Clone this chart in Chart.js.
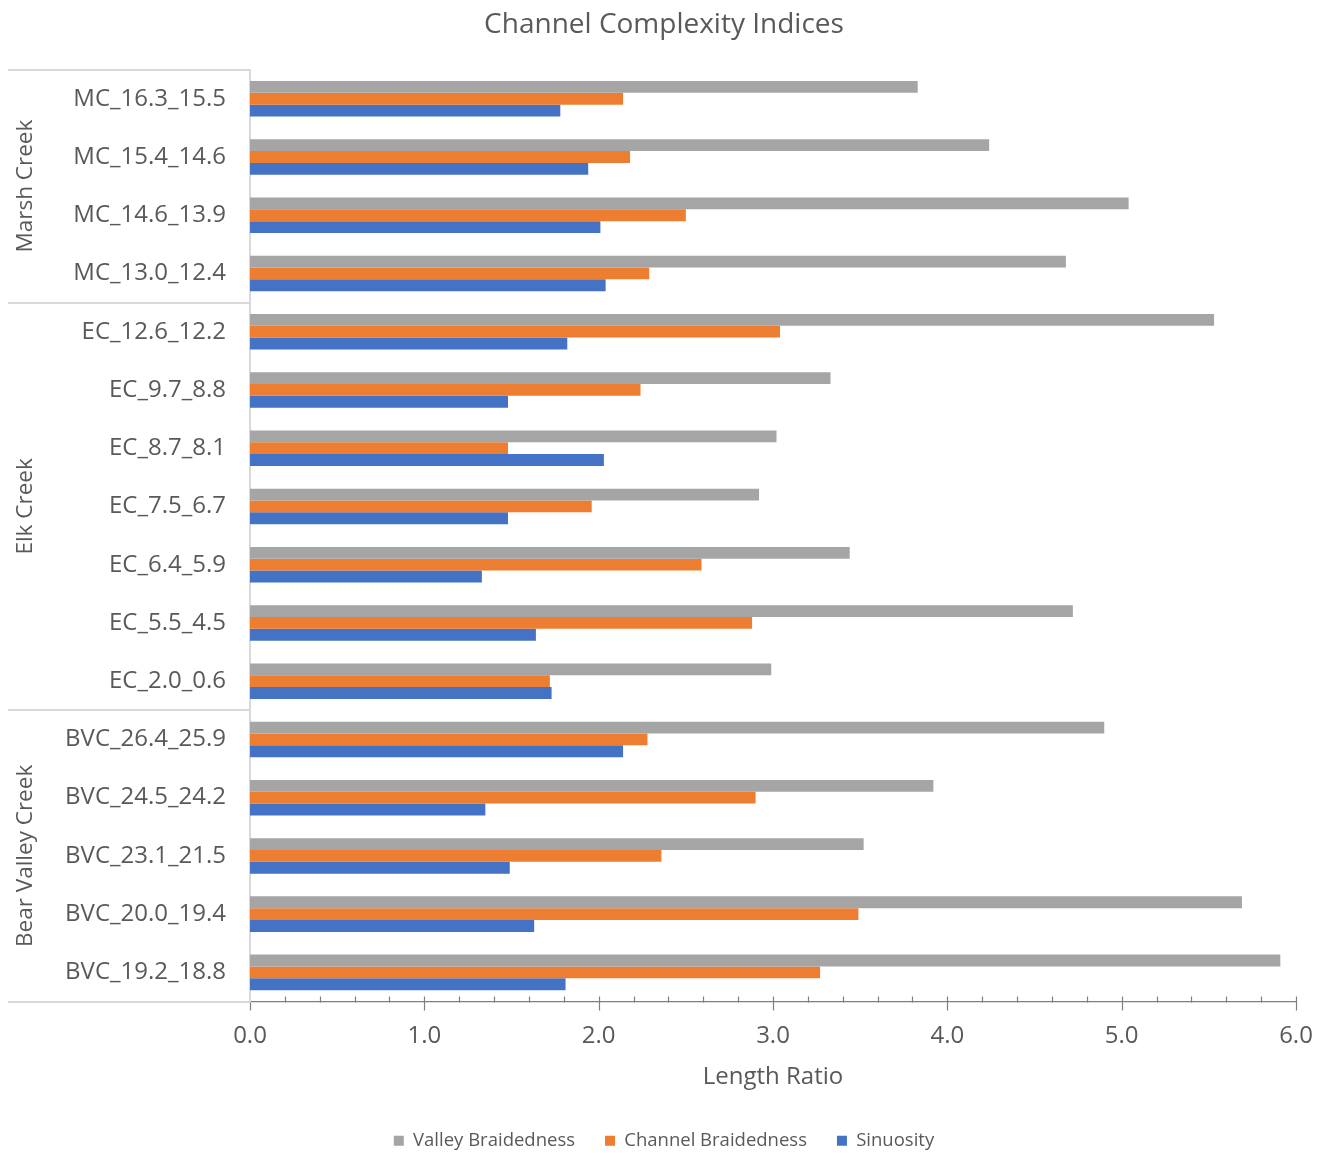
<!DOCTYPE html>
<html>
<head>
<meta charset="utf-8">
<title>Channel Complexity Indices</title>
<script src="https://cdn.jsdelivr.net/npm/chart.js@4.4.1/dist/chart.umd.min.js"></script>
<style>
  html, body { margin: 0; padding: 0; background: #ffffff; }
  #wrap { width: 1327px; height: 1153px; }
</style>
</head>
<body>
<div id="wrap"><canvas id="c" width="1327" height="1153"></canvas></div>
<script>
// Reach names, top to bottom
const reaches = [
  'MC_16.3_15.5', 'MC_15.4_14.6', 'MC_14.6_13.9', 'MC_13.0_12.4',
  'EC_12.6_12.2', 'EC_9.7_8.8', 'EC_8.7_8.1', 'EC_7.5_6.7', 'EC_6.4_5.9', 'EC_5.5_4.5', 'EC_2.0_0.6',
  'BVC_26.4_25.9', 'BVC_24.5_24.2', 'BVC_23.1_21.5', 'BVC_20.0_19.4', 'BVC_19.2_18.8'
];

// Creek groups and how many reaches each holds
const groupNames = ['Marsh Creek', 'Elk Creek', 'Bear Valley Creek'];
const groupSizes = [4, 7, 5];

// Length ratios per reach
const valleyBraidedness = [3.83, 4.24, 5.04, 4.68, 5.53, 3.33, 3.02, 2.92, 3.44, 4.72, 2.99, 4.90, 3.92, 3.52, 5.69, 5.91];
const channelBraidedness = [2.14, 2.18, 2.50, 2.29, 3.04, 2.24, 1.48, 1.96, 2.59, 2.88, 1.72, 2.28, 2.90, 2.36, 3.49, 3.27];
const sinuosity = [1.78, 1.94, 2.01, 2.04, 1.82, 1.48, 2.03, 1.48, 1.33, 1.64, 1.73, 2.14, 1.35, 1.49, 1.63, 1.81];

// Value axis
const xMin = 0, xMax = 6, xMajorStep = 1, xMinorStep = 0.2;

const TEXT = '#595959';
const FONT = "'Open Sans', 'DejaVu Sans', sans-serif";

// Group labels and separator lines on the left of the category axis
const groupAxis = {
  id: 'groupAxis',
  afterDraw(chart) {
    const { ctx, chartArea, scales } = chart;
    const y = scales.y;
    const half = (y.getPixelForValue(1) - y.getPixelForValue(0)) / 2;
    ctx.save();
    ctx.strokeStyle = '#d9d9d9';
    ctx.lineWidth = 2;
    let start = 0;
    const bounds = [];
    groupSizes.forEach((n, i) => {
      const top = y.getPixelForValue(start) - half;
      const bottom = y.getPixelForValue(start + n - 1) + half;
      if (i === 0) bounds.push(top);
      bounds.push(bottom);
      ctx.save();
      ctx.translate(26, (top + bottom) / 2);
      ctx.rotate(-Math.PI / 2);
      ctx.fillStyle = TEXT;
      ctx.font = '22.5px ' + FONT;
      ctx.textAlign = 'center';
      ctx.textBaseline = 'middle';
      ctx.fillText(groupNames[i], 0, 0);
      ctx.restore();
      start += n;
    });
    bounds.forEach(b => {
      ctx.beginPath();
      ctx.moveTo(8, Math.round(b));
      ctx.lineTo(chartArea.left, Math.round(b));
      ctx.stroke();
    });
    ctx.restore();
  }
};

// Major and minor tick marks along the value axis
const valueTicks = {
  id: 'valueTicks',
  afterDraw(chart) {
    const { ctx, chartArea, scales } = chart;
    const x = scales.x;
    const yb = Math.round(chartArea.bottom) + 0.5;
    ctx.save();
    ctx.strokeStyle = '#7f7f7f';
    ctx.lineWidth = 1.2;
    const n = Math.round((xMax - xMin) / xMinorStep);
    for (let i = 0; i <= n; i++) {
      const v = xMin + i * xMinorStep;
      const px = Math.round(x.getPixelForValue(v)) + 0.5;
      const major = Math.abs(v / xMajorStep - Math.round(v / xMajorStep)) < 1e-6;
      ctx.beginPath();
      if (major) { ctx.moveTo(px, i === 0 ? yb : yb - 6); ctx.lineTo(px, yb + 8); }
      else { ctx.moveTo(px, yb - 6); ctx.lineTo(px, yb); }
      ctx.stroke();
    }
    ctx.restore();
  }
};

new Chart(document.getElementById('c'), {
  type: 'bar',
  data: {
    labels: reaches,
    datasets: [
      { label: 'Valley Braidedness', data: valleyBraidedness, backgroundColor: '#a5a5a5' },
      { label: 'Channel Braidedness', data: channelBraidedness, backgroundColor: '#ed7d31' },
      { label: 'Sinuosity', data: sinuosity, backgroundColor: '#4472c4' }
    ]
  },
  options: {
    indexAxis: 'y',
    responsive: false,
    animation: false,
    events: [],
    categoryPercentage: 0.61,
    barPercentage: 1.0,
    layout: { padding: { left: 32, right: 31, top: 0, bottom: -7 } },
    plugins: {
      title: {
        display: true,
        text: 'Channel Complexity Indices',
        color: TEXT,
        font: { family: FONT, size: 28, weight: 'normal' },
        padding: { top: 8, bottom: 28 }
      },
      legend: {
        display: true,
        position: 'bottom',
        labels: {
          color: TEXT,
          font: { family: FONT, size: 18.5 },
          boxWidth: 10,
          boxHeight: 10,
          padding: 30
        }
      },
      tooltip: { enabled: false }
    },
    scales: {
      x: {
        type: 'linear',
        min: xMin,
        max: xMax,
        afterFit(scale) {
          scale.height = 100;
          scale.paddingLeft = 0;
          scale.paddingRight = 0;
        },
        grid: { display: false, drawTicks: false },
        border: { display: true, color: '#7f7f7f', width: 1.2 },
        ticks: {
          stepSize: xMajorStep,
          padding: 20,
          color: TEXT,
          font: { family: FONT, size: 24 },
          callback: v => Number(v).toFixed(1)
        },
        title: {
          display: true,
          text: 'Length Ratio',
          color: TEXT,
          font: { family: FONT, size: 24 },
          padding: { top: 0, bottom: 10 }
        }
      },
      y: {
        afterFit(scale) { scale.width = 218; },
        grid: { display: false, drawTicks: false },
        border: { display: true, color: '#d9d9d9', width: 2 },
        ticks: {
          padding: 24,
          color: TEXT,
          font: { family: FONT, size: 24 }
        }
      }
    }
  },
  plugins: [groupAxis, valueTicks]
});
</script>
</body>
</html>
